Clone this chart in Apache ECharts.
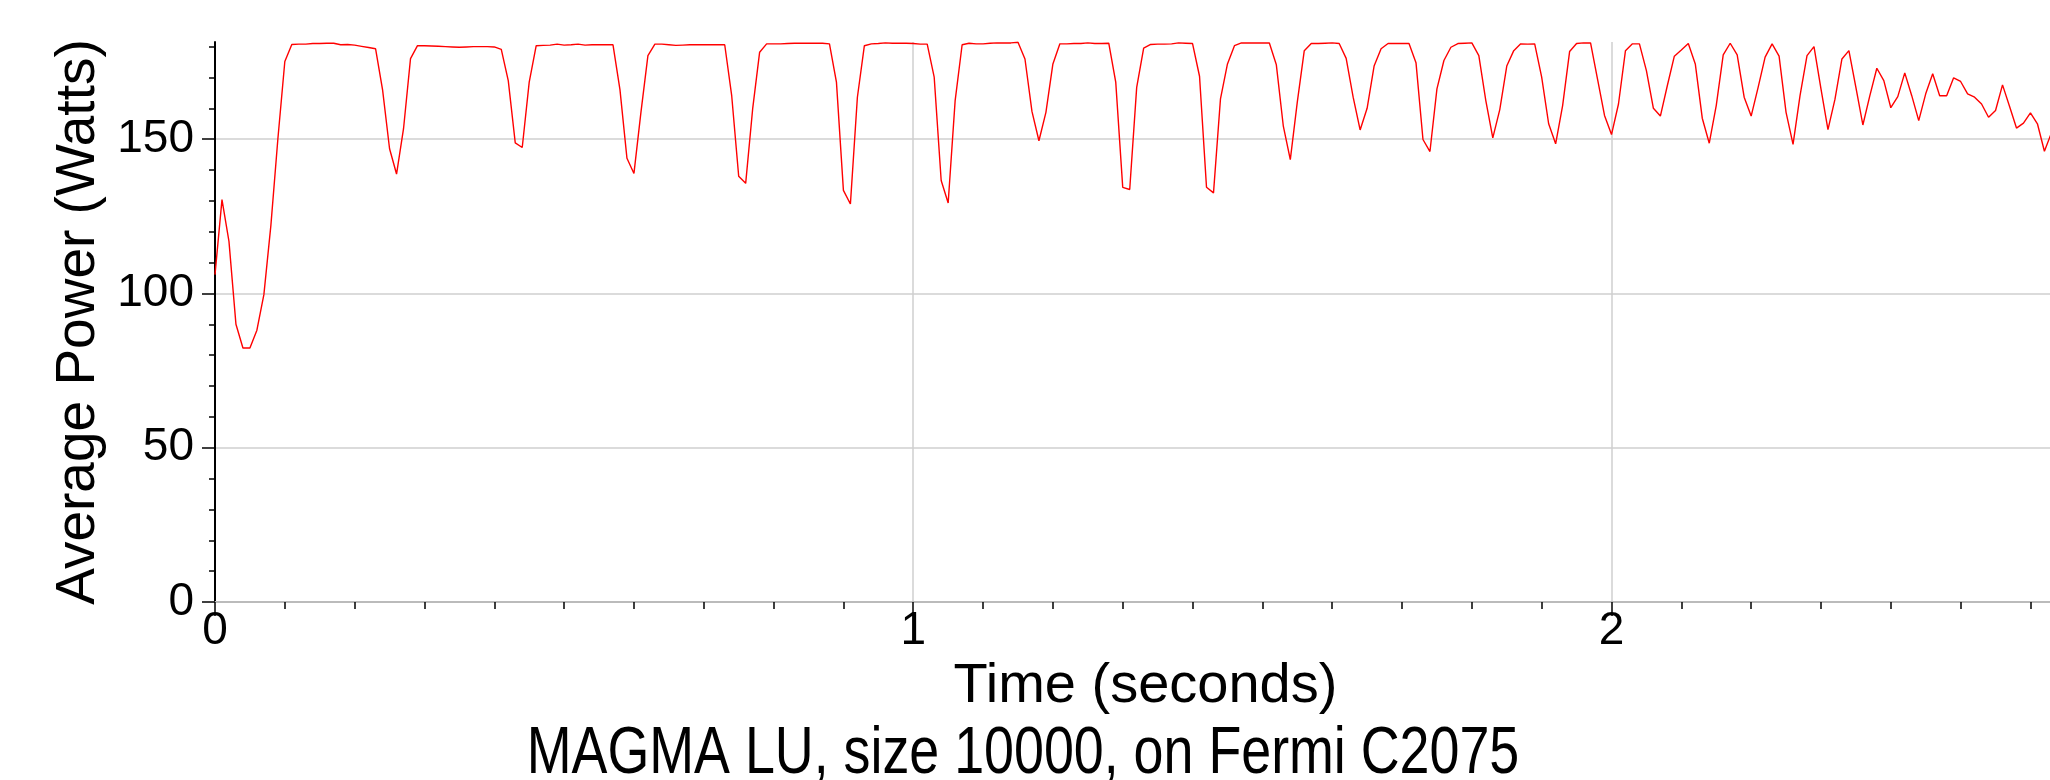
<!DOCTYPE html>
<html>
<head>
<meta charset="utf-8">
<script src="https://cdn.jsdelivr.net/npm/echarts@6/dist/echarts.min.js"></script>
<style>
html,body{margin:0;padding:0;background:#fff;}
#chart{width:2050px;height:780px;}
</style>
</head>
<body>
<div id="chart"></div>
<script>
// ---- data ----
const titleText = 'MAGMA LU, size 10000, on Fermi C2075';
const xAxisName = 'Time (seconds)';
const yAxisName = 'Average Power (Watts)';
const sampleInterval = 0.01; // seconds between samples
const power = [
 106.1,130.4,116.9,90,82.3,82.3,88.1,99.6,122,150,
 175.2,180.7,180.8,180.8,181,181,181.1,181.1,180.6,180.7,
 180.5,180.1,179.7,179.3,166,146.9,138.7,153.4,176.1,180.3,
 180.3,180.2,180.1,180,179.9,179.8,179.9,180,180,180,
 179.9,179.1,169,148.8,147.3,168.5,180.3,180.4,180.5,180.8,
 180.5,180.6,180.8,180.5,180.6,180.6,180.6,180.6,166,143.8,
 138.9,158.7,177.1,180.8,180.8,180.6,180.4,180.5,180.6,180.6,
 180.6,180.6,180.6,180.6,164.1,138,135.7,159.8,178.2,180.9,
 180.9,180.9,181,181.1,181.1,181.1,181.1,181.1,180.9,168.5,
 133.4,129,163.6,180.3,180.9,181,181.2,181.1,181.1,181.1,
 181,180.8,180.8,170.1,136.6,129.3,162.5,180.6,181.1,180.9,
 180.9,181.1,181.2,181.2,181.2,181.4,176,159,149.5,158.7,
 174.4,180.9,180.9,181,181,181.2,181,181,181.1,168.5,
 134.4,133.7,166.8,179.5,180.7,180.8,180.8,180.9,181.2,181.1,
 181,170.4,134.4,132.6,163.1,174.4,180.3,181.2,181.2,181.2,
 181.2,181.2,174.1,154.2,143.4,162,178.7,181,181,181.1,
 181.2,181,176.2,163.6,153,160,173.7,179.3,181,181,
 181,181,174.8,149.9,146,166.3,175.5,179.8,181,181.1,
 181.2,177.1,162.5,150.4,159.6,173.7,178.7,180.9,180.8,180.9,
 170.1,155,148.5,160.9,178.4,181,181.2,181.2,169.5,157.7,
 151.5,161.4,178.7,180.9,180.9,172.2,160,157.5,167.4,176.9,
 178.9,181,174.4,156.8,148.7,160.9,177.3,181.1,177.3,163.6,
 157.5,166.8,176.6,180.9,176.9,158.7,148.3,164.1,177.1,180,
 166.3,153.1,162.9,176,178.7,166.8,154.6,164.1,173,169,
 160.2,163.8,171.5,164.1,156,164.7,171.2,164.1,164.1,169.9,
 168.7,164.7,163.6,161.4,157.1,159.3,167.6,160.7,153.6,155.2,
 158.5,155,146.1,152
];
const xMajorTicks = [0, 1, 2];
const yMajorTicks = [0, 50, 100, 150];
const xRange = [0, 2.628];
const yRange = [0, 181.5];

// ---- build ----
const seriesData = power.map((v, i) => [+(i * sampleInterval).toFixed(2), v]);
const xMinorTicks = [];
for (let k = 1; k * 0.1 < xRange[1]; k++) { if (k % 10) xMinorTicks.push(+(k * 0.1).toFixed(1)); }
const yMinorTicks = [];
for (let k = 1; k * 10 < yRange[1]; k++) { if (k % 5) yMinorTicks.push(k * 10); }

const FONT = '"Liberation Sans", Arial, sans-serif';
const chart = echarts.init(document.getElementById('chart'), null, {renderer: 'canvas'});
chart.setOption({
  backgroundColor: '#ffffff',
  animation: false,
  graphic: [{
    type: 'text',
    x: 1023, y: 788,
    scaleX: 0.815, scaleY: 1,
    silent: true,
    style: {
      text: titleText,
      fontFamily: FONT, fontSize: 66, fill: '#000',
      textAlign: 'center', textVerticalAlign: 'bottom'
    }
  }],
  grid: {left: 215, right: 0, top: 42, bottom: 178, containLabel: false},
  xAxis: [{
    type: 'value', min: xRange[0], max: xRange[1], interval: 1,
    name: xAxisName, nameLocation: 'middle', nameGap: 57,
    nameTextStyle: {fontFamily: FONT, fontSize: 56, color: '#000', padding: [0, 0, 0, 26]},
    axisLine: {show: true, onZero: false, lineStyle: {color: '#bbbbbb', width: 2}},
    axisTick: {show: true, inside: false, length: 14, customValues: xMajorTicks, lineStyle: {color: '#000', width: 1.5}},
    axisLabel: {show: true, customValues: xMajorTicks, margin: 6, fontFamily: FONT, fontSize: 46, color: '#000'},
    splitLine: {show: true, lineStyle: {color: '#cfcfcf', width: 1.5}}
  }, {
    type: 'value', min: xRange[0], max: xRange[1], position: 'bottom',
    axisLine: {show: false},
    axisTick: {show: true, inside: false, length: 7, customValues: xMinorTicks, lineStyle: {color: '#000', width: 1.5}},
    axisLabel: {show: false},
    splitLine: {show: false}
  }],
  yAxis: [{
    type: 'value', min: yRange[0], max: yRange[1], interval: 50,
    name: yAxisName, nameLocation: 'middle', nameGap: 100, nameRotate: 90,
    nameTextStyle: {fontFamily: FONT, fontSize: 55, color: '#000'},
    axisLine: {show: true, onZero: false, lineStyle: {color: '#000', width: 2}},
    axisTick: {show: true, inside: false, length: 13, customValues: yMajorTicks, lineStyle: {color: '#000', width: 1.5}},
    axisLabel: {show: true, customValues: yMajorTicks, margin: 21, fontFamily: FONT, fontSize: 46, color: '#000'},
    splitLine: {show: true, lineStyle: {color: '#cfcfcf', width: 1.5}}
  }, {
    type: 'value', min: yRange[0], max: yRange[1], position: 'left',
    axisLine: {show: false},
    axisTick: {show: true, inside: false, length: 6, customValues: yMinorTicks, lineStyle: {color: '#000', width: 1.5}},
    axisLabel: {show: false},
    splitLine: {show: false}
  }],
  series: [{
    type: 'line',
    data: seriesData,
    xAxisIndex: 0, yAxisIndex: 0,
    showSymbol: false, symbol: 'none',
    lineStyle: {color: '#ff0000', width: 1.4},
    clip: true
  }]
});
</script>
</body>
</html>
